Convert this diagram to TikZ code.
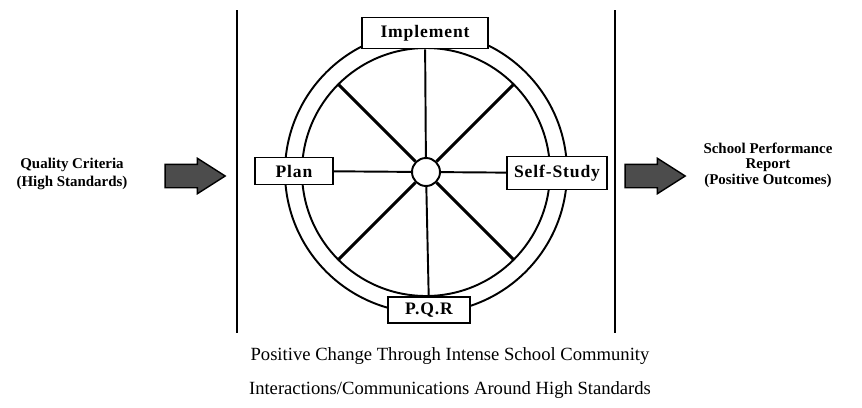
\documentclass[tikz,border=0pt]{standalone}
\usepackage{fontspec}
\setmainfont{Liberation Serif}
\newfontfamily\widebold[LetterSpace=5]{Liberation Serif Bold}
\usetikzlibrary{shapes.arrows}

\tikzset{
  lbl/.style={font=\fontsize{8.5}{10}\selectfont\bfseries, align=center},
  stage/.style={draw, fill=white, line width=1.1pt, inner sep=0pt, font=\fontsize{10}{11}\widebold},
  bigarrow/.style={single arrow, draw, fill=black!70, line width=0.8pt, minimum height=60*0.02cm, minimum width=34*0.02cm, inner xsep=0pt, inner ysep=11*0.02cm, single arrow head extend=6*0.02cm, single arrow tip angle=65},
  caption/.style={font=\fontsize{10.6}{19}\selectfont, align=center}
}

\begin{document}
\begin{tikzpicture}[x=0.02cm, y=0.02cm, line width=1.1pt]
\useasboundingbox (0,0) rectangle (862,407);

% side lines
\coordinate (ltop) at (237,397);
\coordinate (lbot) at (237,74);
\coordinate (rtop) at (615,397);
\coordinate (rbot) at (615,74);
\draw (ltop) -- (lbot);
\draw (rtop) -- (rbot);

% wheel
\node[circle, draw, minimum size=282*0.02cm] (ring) at (426,235) {};
\node[circle, draw, minimum size=248*0.02cm] (rim) at (426,235) {};
\node[circle, draw, fill=white, minimum size=28*0.02cm] (hub) at (426,235) {};

\node[stage, minimum width=126*0.02cm, minimum height=31*0.02cm] (implement) at (425,374) {Implement};
\node[stage, minimum width=82*0.02cm, minimum height=26*0.02cm] (pqr) at (429,97) {P.Q.R};
\node[stage, minimum width=78*0.02cm, minimum height=27*0.02cm] (plan) at (294,236) {Plan};
\node[stage, minimum width=100*0.02cm, minimum height=33*0.02cm] (selfstudy) at (557,234) {Self-Study};

\draw (hub) -- (implement);
\draw (hub) -- (pqr);
\draw (hub) -- (plan);
\draw (hub) -- (selfstudy);
\foreach \a in {45,135,225,315}
  \draw[line width=1.8pt] (hub.\a) -- (rim.\a);

% in and out
\node[lbl] (criteria) at (72,233) {Quality Criteria\\(High Standards)};
\node[bigarrow] (inarrow) at (186,231) {};
\node[bigarrow] (outarrow) at (646,231) {};
\node[lbl, font=\fontsize{8.5}{8.8}\selectfont\bfseries] (report) at (768,242) {School Performance\\Report\\(Positive Outcomes)};

\node[caption] (change) at (450,34) {Positive Change Through Intense School Community\\Interactions/Communications Around High Standards};
\end{tikzpicture}
\end{document}
